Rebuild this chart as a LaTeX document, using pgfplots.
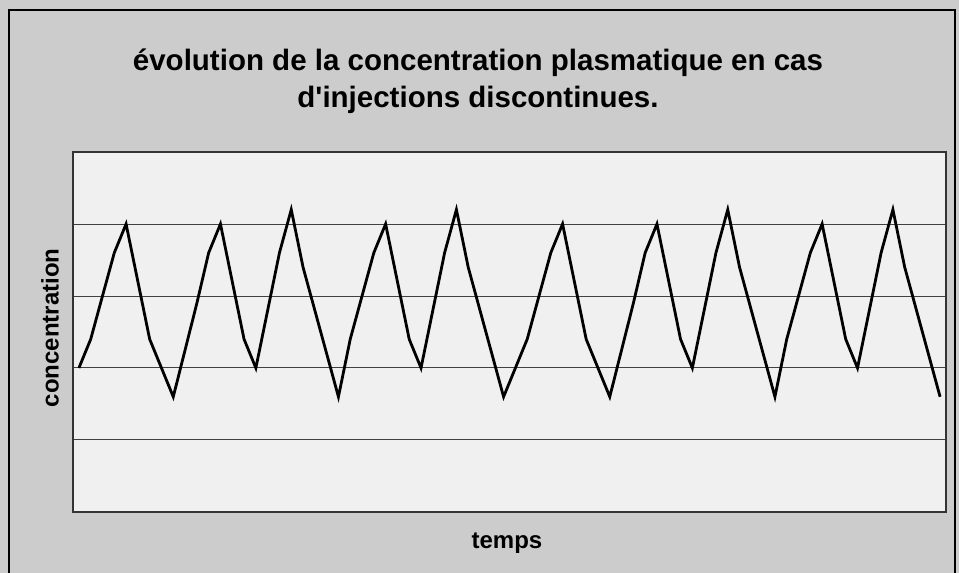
\documentclass[border=0pt]{standalone}
\usepackage{fontspec}
\setmainfont{Liberation Sans}
\usepackage{pgfplots}
\pgfplotsset{compat=1.18}
\usepackage{pgfplotstable}
\definecolor{outerbg}{gray}{0.80}
\definecolor{innerbg}{gray}{0.94}
\pgfplotstableread{
t c
0 2.0
1 2.4
2 3.0
3 3.6
4 4.0
5 3.2
6 2.4
7 2.0
8 1.6
9 2.25
10 2.9
11 3.6
12 4.0
13 3.2
14 2.4
15 2.0
16 2.8
17 3.6
18 4.2
19 3.4
20 2.8
21 2.2
22 1.6
23 2.4
24 3.0
25 3.6
26 4.0
27 3.2
28 2.4
29 2.0
30 2.8
31 3.6
32 4.2
33 3.4
34 2.8
35 2.2
36 1.6
37 2.0
38 2.4
39 3.0
40 3.6
41 4.0
42 3.2
43 2.4
44 2.0
45 1.6
46 2.25
47 2.9
48 3.6
49 4.0
50 3.2
51 2.4
52 2.0
53 2.8
54 3.6
55 4.2
56 3.4
57 2.8
58 2.2
59 1.6
60 2.4
61 3.0
62 3.6
63 4.0
64 3.2
65 2.4
66 2.0
67 2.8
68 3.6
69 4.2
70 3.4
71 2.8
72 2.2
73 1.6
}\conc
\begin{document}
\begin{tikzpicture}[x=1pt,y=1pt]
\useasboundingbox (0,0) rectangle (959,573);
\fill[outerbg] (0,0) rectangle (959,573);
\draw[black, line width=1.2pt] (9,-2) -- (9,563) -- (955,563) -- (955,-2);
\begin{axis}[
  at={(73pt,61pt)}, anchor=south west,
  scale only axis, width=873pt, height=360pt,
  xmin=-0.5, xmax=73.5, ymin=0, ymax=5,
  xtick=\empty, ytick={1,2,3,4}, yticklabels={},
  major tick length=0pt,
  ymajorgrids,
  grid style={black!75, line width=1pt},
  axis line style={black!80, line width=1.5pt},
  axis background/.style={fill=innerbg},
]
\addplot[black, line width=2.8pt, mark=none] table[x=t,y=c]{\conc};
\end{axis}
\node[font=\bfseries\fontsize{29.5}{37}\selectfont, align=center] at (478,492) {évolution de la concentration plasmatique en cas\\d\textquotesingle injections discontinues.};
\node[font=\bfseries\fontsize{24}{28}\selectfont] at (507,30) {temps};
\node[font=\bfseries\fontsize{24}{28}\selectfont, rotate=90] at (50,245) {concentration};
\end{tikzpicture}
\end{document}
